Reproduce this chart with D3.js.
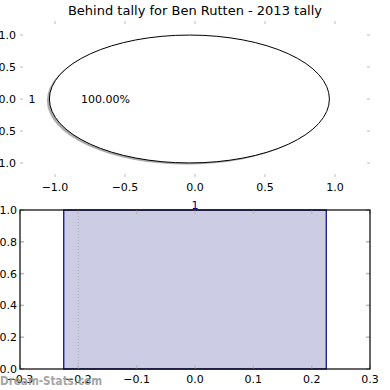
<!DOCTYPE html>
<html>
<head>
<meta charset="utf-8">
<script src="https://cdn.jsdelivr.net/npm/d3@7"></script>
<style>
  body { margin: 0; background: #fff; }
  svg { font-family: "DejaVu Sans", sans-serif; }
</style>
</head>
<body>
<div id="chart"></div>
<script>
var titleText = 'Behind tally for Ben Rutten - 2013 tally'
var pieLabels = ['1']
var pieValues = [1]
var pieTicksX = [-1.0, -0.5, 0.0, 0.5, 1.0]
var pieTicksY = [-1.0, -0.5, 0.0, 0.5, 1.0]
var barLabels = ['1']
var barValues = [1]
var barCenters = [0]
var barTicksX = [-0.3, -0.2, -0.1, 0.0, 0.1, 0.2, 0.3]
var barTicksY = [0.0, 0.2, 0.4, 0.6, 0.8, 1.0]

var W = 390, H = 390
var svg = d3.select('#chart').append('svg')
  .attr('width', W).attr('height', H)

svg.append('text')
  .attr('x', 195).attr('y', 15)
  .attr('text-anchor', 'middle')
  .style('font-size', '13px')
  .text(titleText)

var tickGray = '#bbbbbb'
var fmt = d3.format('.1f')
var minusFmt = d => fmt(d).replace('-', '\u2212')

// ---------- top: pie ----------
var px = d3.scaleLinear().domain([-1.25, 1.25]).range([20, 370])
var py = d3.scaleLinear().domain([-1.22, 1.22]).range([177, 21])
var pieG = svg.append('g')

// tick marks only, no spines
pieTicksX.forEach(function(t) {
  pieG.append('line').attr('x1', px(t)).attr('x2', px(t)).attr('y1', 21).attr('y2', 24)
    .attr('stroke', tickGray)
  pieG.append('line').attr('x1', px(t)).attr('x2', px(t)).attr('y1', 177).attr('y2', 174)
    .attr('stroke', tickGray)
  pieG.append('text').attr('x', px(t)).attr('y', 191)
    .attr('text-anchor', 'middle').style('font-size', '11px')
    .text(minusFmt(t))
})
pieTicksY.forEach(function(t) {
  pieG.append('line').attr('x1', 20).attr('x2', 23).attr('y1', py(t)).attr('y2', py(t))
    .attr('stroke', tickGray)
  pieG.append('line').attr('x1', 370).attr('x2', 367).attr('y1', py(t)).attr('y2', py(t))
    .attr('stroke', tickGray)
  pieG.append('text').attr('x', 16).attr('y', py(t) + 4)
    .attr('text-anchor', 'end').style('font-size', '11px')
    .text(minusFmt(t))
})

var pieCx = -0.04, pieCy = 0
var sx = px(1) - px(0), sy = py(0) - py(1)
// single wedge, its middle points left (like the reference)
var arcs = d3.pie().sort(null).startAngle(Math.PI / 2).endAngle(5 * Math.PI / 2)(pieValues)
var arcGen = d3.arc().innerRadius(0).outerRadius(1)

// shadow
pieG.append('g')
  .attr('transform', 'translate(' + px(pieCx - 0.018) + ',' + py(pieCy - 0.025) + ') scale(' + sx + ',' + sy + ')')
  .selectAll('path').data(arcs).enter().append('path')
  .attr('d', arcGen)
  .attr('fill', '#666').attr('fill-opacity', 0.55)

pieG.append('g')
  .attr('transform', 'translate(' + px(pieCx) + ',' + py(pieCy) + ') scale(' + sx + ',' + sy + ')')
  .selectAll('path').data(arcs).enter().append('path')
  .attr('d', arcGen)
  .attr('fill', '#ffffff')
  .attr('stroke', '#000').attr('stroke-width', 1)
  .attr('vector-effect', 'non-scaling-stroke')

arcs.forEach(function(a, i) {
  var mid = (a.startAngle + a.endAngle) / 2
  var ux = Math.sin(mid), uy = Math.cos(mid)
  pieG.append('text')
    .attr('x', px(pieCx + 1.1 * ux)).attr('y', py(pieCy + 1.1 * uy) + 4)
    .attr('text-anchor', ux < -0.01 ? 'end' : (ux > 0.01 ? 'start' : 'middle'))
    .style('font-size', '11px')
    .text(pieLabels[i])
  pieG.append('text')
    .attr('x', px(pieCx + 0.6 * ux)).attr('y', py(pieCy + 0.6 * uy) + 4)
    .attr('text-anchor', 'middle')
    .style('font-size', '11px')
    .text(d3.format('.2f')(a.value / d3.sum(pieValues) * 100) + '%')
})

// ---------- bottom: bar ----------
var bx = d3.scaleLinear().domain([-0.3, 0.3]).range([20, 370])
var by = d3.scaleLinear().domain([0, 1]).range([369, 210])
var barG = svg.append('g')
var barWidth = 0.45

barG.selectAll('rect.bar').data(barValues).enter().append('rect')
  .attr('class', 'bar')
  .attr('x', (d, i) => bx(barCenters[i] - barWidth / 2))
  .attr('y', d => by(d))
  .attr('width', bx(barWidth) - bx(0))
  .attr('height', d => by(0) - by(d))
  .attr('fill', '#cccce5')
  .attr('stroke', '#000080').attr('stroke-width', 1.2)

// dotted line at -0.2
barG.append('line')
  .attr('x1', bx(-0.2)).attr('x2', bx(-0.2)).attr('y1', by(1)).attr('y2', by(0))
  .attr('stroke', '#aaaaaa').attr('stroke-dasharray', '1,2')

barTicksX.forEach(function(t) {
  barG.append('line').attr('x1', bx(t)).attr('x2', bx(t)).attr('y1', 369).attr('y2', 365)
    .attr('stroke', tickGray).attr('stroke-width', 1.5)
  barG.append('line').attr('x1', bx(t)).attr('x2', bx(t)).attr('y1', 210).attr('y2', 214)
    .attr('stroke', tickGray).attr('stroke-width', 1.5)
  barG.append('text').attr('x', bx(t)).attr('y', 383)
    .attr('text-anchor', 'middle').style('font-size', '11px')
    .text(minusFmt(t))
})
barTicksY.forEach(function(t) {
  barG.append('line').attr('x1', 20).attr('x2', 24).attr('y1', by(t)).attr('y2', by(t))
    .attr('stroke', tickGray).attr('stroke-width', 1.5)
  barG.append('line').attr('x1', 370).attr('x2', 366).attr('y1', by(t)).attr('y2', by(t))
    .attr('stroke', tickGray).attr('stroke-width', 1.5)
  barG.append('text').attr('x', 17).attr('y', by(t) + 4)
    .attr('text-anchor', 'end').style('font-size', '11px')
    .text(fmt(t))
})

// frame
barG.append('rect')
  .attr('x', 20).attr('y', 210).attr('width', 350).attr('height', 159)
  .attr('fill', 'none').attr('stroke', '#000').attr('stroke-width', 1.2)

barG.selectAll('text.barlabel').data(barValues).enter().append('text')
  .attr('class', 'barlabel')
  .attr('x', (d, i) => bx(barCenters[i]))
  .attr('y', d => by(d) - 1)
  .attr('text-anchor', 'middle')
  .attr('fill', '#000080')
  .style('font-size', '11px')
  .text((d, i) => barLabels[i])

// watermark
svg.append('text')
  .attr('x', 0).attr('y', 385)
  .attr('fill', '#999999').attr('fill-opacity', 0.9)
  .style('font-size', '12.5px').style('font-weight', 'bold')
  .attr('textLength', 102).attr('lengthAdjust', 'spacingAndGlyphs')
  .text('Dream-Stats.com')
</script>
</body>
</html>
